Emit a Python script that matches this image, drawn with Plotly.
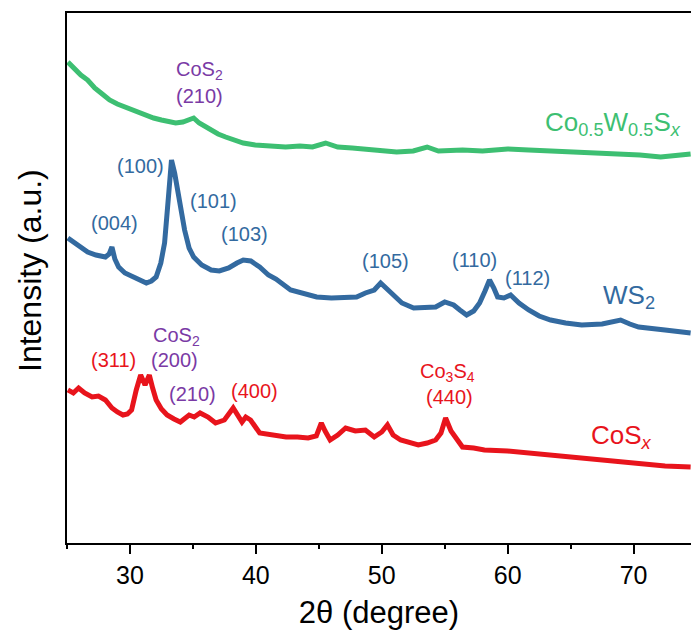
import plotly.graph_objects as go

# ---- data (2theta in degrees, intensity in arbitrary units) ----
cowsx_x = [25.07, 25.6, 26.1, 26.64, 27.2, 27.8, 28.38, 29.0, 29.6, 30.13, 30.7, 31.3, 31.88,
           32.5, 33.1, 33.63, 34.2, 34.7, 35.06, 35.5, 36.0, 36.45, 37.0, 37.6, 38.20, 39.0,
           39.95, 41.0, 42.36, 43.5, 44.5, 45.54, 46.5, 47.65, 49.0, 50.0, 51.18, 52.5,
           53.60, 54.5, 56.42, 58.0, 60.0, 61.67, 63.5, 65.16, 67.0, 68.65, 70.5, 72.15, 73.5, 74.53]
cowsx_y = [481, 474, 468, 463, 455, 449, 443, 439, 436, 433, 430, 428, 425,
           423, 421, 420, 421, 424, 425, 420, 416, 413, 409, 406, 403, 400,
           398, 397, 396, 397, 396, 400, 396, 395, 393, 392, 391, 392,
           396, 392, 393, 392, 394, 393, 392, 391, 390, 389, 388, 386, 388, 389]

ws2_x = [25.07, 25.8, 26.64, 27.3, 28.05, 28.35, 28.57, 28.8, 29.10, 29.6, 30.13, 30.7, 31.30,
         31.7, 32.08, 32.45, 32.75, 33.05, 33.30, 33.55, 33.82, 34.08, 34.34, 34.7, 35.06, 35.7,
         36.45, 37.1, 37.84, 38.5, 39.0, 39.6, 40.3, 41.0, 41.6, 42.76, 43.8, 44.83, 46.0,
         46.95, 48.0, 48.70, 49.4, 49.91, 50.3, 50.78, 51.6, 52.53, 53.4, 54.28, 55.0, 55.71,
         56.2, 56.74, 57.3, 57.77, 58.2, 58.56, 58.9, 59.20, 59.7, 60.23, 60.9, 61.67, 62.5,
         63.41, 64.6, 65.88, 67.5, 68.97, 69.7, 70.40, 72.5, 74.53]
ws2_y = [305, 298, 291, 288, 286, 289, 296, 284, 276, 270, 267, 263, 260,
         262, 266, 280, 300, 345, 383, 370, 350, 338, 313, 295, 286, 278,
         273, 272, 275, 280, 283, 282, 276, 268, 264, 253, 249, 246, 245,
         245, 246, 250, 253, 260, 255, 250, 240, 235, 236, 236, 241, 238,
         233, 228, 232, 240, 252, 263, 255, 246, 245, 248, 240, 233, 227,
         223, 220, 218, 219, 223, 219, 216, 213, 210]

cosx_x = [25.07, 25.5, 25.92, 26.4, 26.99, 27.5, 28.05, 28.57, 29.0, 29.45, 29.8, 30.13, 30.50,
          30.85, 31.20, 31.54, 31.8, 32.08, 32.5, 32.95, 33.5, 34.00, 34.70, 35.1, 35.57, 36.2,
          36.80, 37.5, 38.20, 38.6, 38.90, 39.2, 39.58, 40.30, 41.3, 42.40, 43.3, 44.15, 44.8,
          45.20, 45.5, 45.90, 46.5, 47.13, 47.9, 48.70, 49.40, 50.0, 50.45, 50.9, 51.50, 52.2,
          52.90, 53.6, 54.28, 54.7, 55.07, 55.5, 56.41, 57.3, 58.15, 60.0, 61.67, 63.4, 65.16,
          67.0, 68.65, 70.5, 72.5, 74.53]
cosx_y = [153, 150, 155, 150, 146, 147, 143, 135, 131, 128, 129, 133, 153,
          168, 158, 168, 155, 143, 134, 128, 124, 121, 128, 126, 130, 126,
          120, 123, 135, 127, 121, 126, 123, 110, 108, 106, 106, 105, 107,
          120, 112, 103, 108, 115, 112, 113, 106, 111, 118, 108, 103, 100,
          98, 100, 103, 110, 125, 112, 96, 95, 93, 92, 90, 88, 86,
          84, 81, 80, 77, 76]

series_names = ["Co<sub>0.5</sub>W<sub>0.5</sub>S<sub><i>x</i></sub>", "WS<sub>2</sub>", "CoS<sub><i>x</i></sub>"]
series_colors = ["#3dbf72", "#336aa0", "#e8141c"]

x_ticks = [30, 40, 50, 60, 70]
x_range = [25, 74.56]
y_range = [0, 530]

# annotations: (x in degree, y in intensity, text, color)
purple = "#7a3aa5"
peak_labels = [
    (35.5, 473, "CoS<sub>2</sub>", purple),
    (35.5, 447, "(210)", purple),
    (30.8, 377, "(100)", series_colors[1]),
    (36.6, 342, "(101)", series_colors[1]),
    (28.8, 320, "(004)", series_colors[1]),
    (39.1, 309, "(103)", series_colors[1]),
    (50.3, 282, "(105)", series_colors[1]),
    (57.4, 283, "(110)", series_colors[1]),
    (61.6, 265, "(112)", series_colors[1]),
    (28.7, 183, "(311)", series_colors[2]),
    (33.7, 207, "CoS<sub>2</sub>", purple),
    (33.5, 183, "(200)", purple),
    (35.0, 149, "(210)", purple),
    (39.9, 152, "(400)", series_colors[2]),
    (55.2, 171, "Co<sub>3</sub>S<sub>4</sub>", series_colors[2]),
    (55.4, 146, "(440)", series_colors[2]),
]
sample_labels = [
    (68.4, 420, series_names[0], series_colors[0]),
    (69.6, 247, series_names[1], series_colors[1]),
    (69.0, 107, series_names[2], series_colors[2]),
]

FONT = "Arial, Liberation Sans, sans-serif"

fig = go.Figure()
for xs, ys, name, col in [(cowsx_x, cowsx_y, series_names[0], series_colors[0]),
                          (ws2_x, ws2_y, series_names[1], series_colors[1]),
                          (cosx_x, cosx_y, series_names[2], series_colors[2])]:
    fig.add_trace(go.Scatter(x=xs, y=ys, mode="lines", name=name,
                             line=dict(color=col, width=5), showlegend=False))

for x, y, t, c in peak_labels:
    fig.add_annotation(x=x, y=y, text=t, showarrow=False,
                       font=dict(family=FONT, size=20, color=c))
for x, y, t, c in sample_labels:
    fig.add_annotation(x=x, y=y, text=t, showarrow=False,
                       font=dict(family=FONT, size=26, color=c))

# y-axis title
fig.add_annotation(xref="paper", yref="paper", x=-37 / 624, y=(543 - 271) / 530,
                   text="Intensity (a.u.)", textangle=-90, showarrow=False,
                   xanchor="center", yanchor="middle",
                   font=dict(family=FONT, size=32, color="black"))

fig.update_layout(
    width=691, height=633,
    margin=dict(l=67, r=0, t=13, b=90),
    paper_bgcolor="white", plot_bgcolor="white",
    font=dict(family=FONT, color="black"),
    xaxis=dict(range=x_range, tickvals=x_ticks, ticks="outside", ticklen=9, tickwidth=1.5,
               tickcolor="black", showline=True, linecolor="black", linewidth=2, mirror=True,
               showgrid=False, zeroline=False, tickfont=dict(size=25),
               minor=dict(dtick=5, tick0=25, ticks="outside", ticklen=4, tickwidth=1.5, tickcolor="black"),
               title=dict(text="2θ (degree)", font=dict(size=31), standoff=13)),
    yaxis=dict(range=y_range, showticklabels=False, ticks="", showline=True, linecolor="black",
               linewidth=2, mirror=False, showgrid=False, zeroline=False),
)

fig.write_html("out.html")
